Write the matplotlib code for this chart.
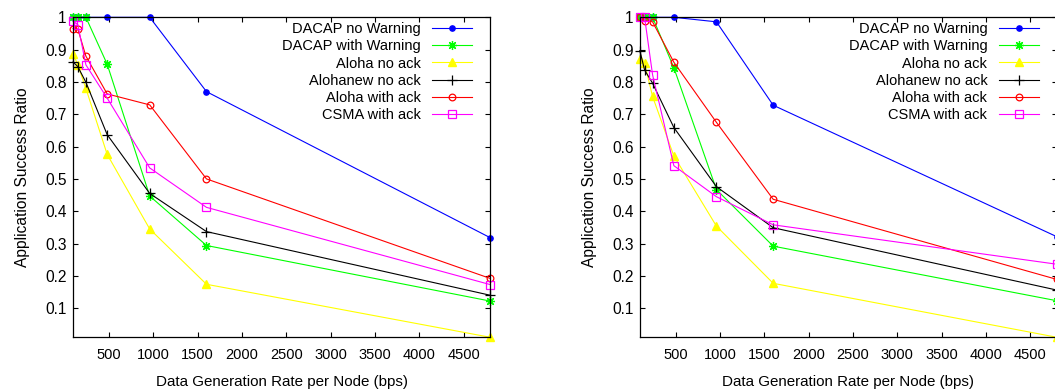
import matplotlib
matplotlib.use("Agg")
import matplotlib.pyplot as plt
from matplotlib.ticker import MultipleLocator, FuncFormatter

plt.rcParams['font.family'] = ['Liberation Sans', 'DejaVu Sans']

# Data generation rate per node (bps)
rates = [96, 150, 240, 480, 960, 1600, 4800]

series_names = ["DACAP no Warning", "DACAP with Warning", "Aloha no ack",
                "Alohanew no ack", "Aloha with ack", "CSMA with ack"]

# Application success ratio, first scenario
left_dacap_no_warn = [1.0, 1.0, 1.0, 1.0, 1.0, 0.770, 0.318]
left_dacap_warn = [1.0, 1.0, 1.0, 0.855, 0.447, 0.294, 0.122]
left_aloha_no_ack = [0.888, 0.852, 0.780, 0.576, 0.345, 0.174, 0.010]
left_alohanew_no_ack = [0.862, 0.847, 0.799, 0.637, 0.455, 0.337, 0.140]
left_aloha_ack = [0.965, 0.963, 0.880, 0.763, 0.729, 0.500, 0.192]
left_csma_ack = [0.988, 0.977, 0.853, 0.750, 0.534, 0.412, 0.173]

# Application success ratio, second scenario
right_dacap_no_warn = [1.0, 1.0, 1.0, 1.0, 0.986, 0.728, 0.321]
right_dacap_warn = [1.0, 1.0, 1.0, 0.844, 0.467, 0.292, 0.123]
right_aloha_no_ack = [0.870, 0.858, 0.755, 0.571, 0.354, 0.177, 0.010]
right_alohanew_no_ack = [0.897, 0.837, 0.796, 0.659, 0.476, 0.349, 0.156]
right_aloha_ack = [1.0, 0.990, 0.986, 0.861, 0.675, 0.437, 0.189]
right_csma_ack = [1.0, 1.0, 0.822, 0.541, 0.445, 0.358, 0.236]

left_data = [left_dacap_no_warn, left_dacap_warn, left_aloha_no_ack,
             left_alohanew_no_ack, left_aloha_ack, left_csma_ack]
right_data = [right_dacap_no_warn, right_dacap_warn, right_aloha_no_ack,
              right_alohanew_no_ack, right_aloha_ack, right_csma_ack]

styles = [
    dict(color='#0000ff', marker='o', ms=3.8, mfc='#0000ff', mec='#0000ff'),
    dict(color='#00ff00', marker=(8, 2, 0), ms=6.5, mfc='none', mec='#00ff00', mew=0.9),
    dict(color='#ffff00', marker='^', ms=5.5, mfc='#ffff00', mec='#ffff00'),
    dict(color='#000000', marker='+', ms=6.5, mfc='none', mec='#000000', mew=0.9),
    dict(color='#ff0000', marker='o', ms=4.8, mfc='none', mec='#ff0000', mew=0.9),
    dict(color='#ff00ff', marker='s', ms=5.8, mfc='none', mec='#ff00ff', mew=0.9),
]

W, H = 1055, 389
fig = plt.figure(figsize=(W / 100, H / 100), dpi=100)

ax_w = 417.2 / W
ax_h = 320.0 / H
ax_b = (H - 337.3) / H
ax_left = fig.add_axes([73.1 / W, ax_b, ax_w, ax_h])
ax_right = fig.add_axes([639.8 / W, ax_b, ax_w, ax_h])

fs = 10.5
for ax, data in ((ax_left, left_data), (ax_right, right_data)):
    for name, vals, st in zip(series_names, data, styles):
        ax.plot(rates, vals, label=name, lw=0.8, clip_on=False, **st)
    ax.set_xlim(rates[0], rates[-1])
    ax.set_ylim(min(v for s in data for v in s), 1.0)
    ax.xaxis.set_major_locator(MultipleLocator(500))
    ax.yaxis.set_major_locator(MultipleLocator(0.1))
    ax.yaxis.set_major_formatter(FuncFormatter(lambda v, p: '%g' % round(v, 2)))
    ax.tick_params(direction='in', length=3.5, width=0.8, top=True, right=True,
                   labelsize=fs, colors='#000000')
    ax.tick_params(axis='y', pad=4.5, labelsize=11.2)
    ax.tick_params(axis='x', pad=8)
    for sp in ax.spines.values():
        sp.set_linewidth(0.9)
        sp.set_color('#000000')
    ax.set_xlabel("Data Generation Rate per Node (bps)", fontsize=10.9, labelpad=9)
    ax.set_ylabel("Application Success Ratio", fontsize=11.2, labelpad=11)
    ax.legend(loc='upper right', bbox_to_anchor=(0.957, 0.985), frameon=False,
              markerfirst=False, fontsize=fs, handlelength=2.75, handletextpad=0.8,
              labelspacing=0.22, borderpad=0, borderaxespad=0, numpoints=1)

fig.savefig("out.png", dpi=100)
